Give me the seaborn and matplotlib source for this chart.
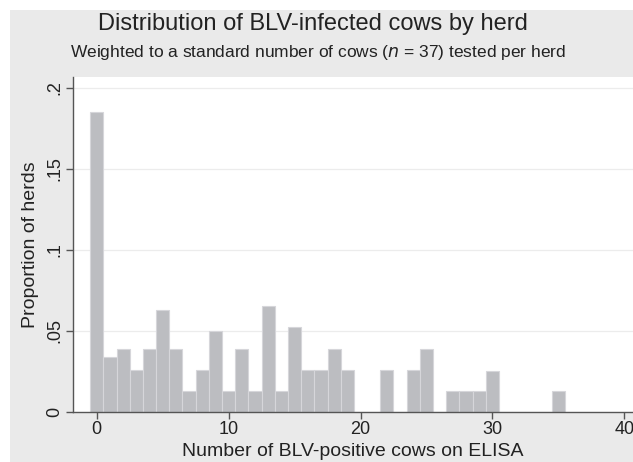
import matplotlib
matplotlib.use("Agg")
import matplotlib.pyplot as plt
from matplotlib.patches import Rectangle
import seaborn as sns
import pandas as pd

# Number of BLV-positive cows per herd and the weighted share of herds
positive_cows = [0, 1, 2, 3, 4, 5, 6, 7, 8, 9, 10, 11, 12, 13, 14, 15, 16, 17, 18, 19,
                 22, 24, 25, 27, 28, 29, 30, 35]
herd_share = [0.185, 0.034, 0.039, 0.026, 0.039, 0.063, 0.039, 0.013, 0.026, 0.050,
              0.013, 0.039, 0.013, 0.065, 0.013, 0.052, 0.026, 0.026, 0.039, 0.026,
              0.026, 0.026, 0.039, 0.013, 0.013, 0.013, 0.025, 0.013]

x_ticks = [0, 10, 20, 30, 40]
y_ticks = [0, 0.05, 0.10, 0.15, 0.20]
y_tick_labels = ["0", ".05", ".1", ".15", ".2"]

df = pd.DataFrame({"cows": positive_cows, "share": herd_share})

sns.set_theme(style="white")
plt.rcParams["font.family"] = ["Liberation Sans", "DejaVu Sans"]

W, H = 633, 462
fig = plt.figure(figsize=(W / 100, H / 100), dpi=100)
fig.patch.set_facecolor("white")
# light grey graph region behind the plot
fig.patches.append(Rectangle((10 / W, 0), 1 - 10 / W, 1 - 10 / H,
                             transform=fig.transFigure, facecolor="#eaeaea",
                             edgecolor="none", zorder=-5))

ax = fig.add_axes([73 / W, 1 - 411.7 / H, 1 - 73 / W, (411.7 - 77) / H])
ax.set_zorder(1)
ax.set_facecolor("white")

sns.histplot(data=df, x="cows", weights="share", discrete=True, stat="count",
             color="#bcbdc1", alpha=1.0, edgecolor="#d6d6da", linewidth=0.8,
             ax=ax, zorder=2)

ax.set_xlim(-1.8, 40.66)
ax.set_ylim(0, 0.2066)
ax.set_xticks(x_ticks)
ax.set_xticklabels([str(t) for t in x_ticks])
ax.set_yticks(y_ticks)
ax.set_yticklabels(y_tick_labels, rotation=90, va="center")

for y in y_ticks[1:]:
    ax.axhline(y, color="#ececec", linewidth=0.9, zorder=1)

for side in ["top", "right"]:
    ax.spines[side].set_visible(False)
for side in ["left", "bottom"]:
    ax.spines[side].set_color("#555555")
    ax.spines[side].set_linewidth(1.0)

ax.tick_params(axis="both", which="major", length=5, width=1.0, color="#555555",
               labelsize=13, labelcolor="#222222", pad=2,
               bottom=True, left=True)

ax.set_xlabel("Number of BLV-positive cows on ELISA", fontsize=14, color="#222222",
              labelpad=3)
ax.set_ylabel("Proportion of herds", fontsize=14, color="#222222", labelpad=5)

fig.text(0.495, 1 - 24 / H, "Distribution of BLV-infected cows by herd",
         ha="center", va="center", fontsize=17, color="#222222")
fig.text(0.502, 1 - 53 / H,
         "Weighted to a standard number of cows ($\\it{n}$ = 37) tested per herd",
         ha="center", va="center", fontsize=12.5, color="#222222")

fig.savefig("out.png", dpi=100)
